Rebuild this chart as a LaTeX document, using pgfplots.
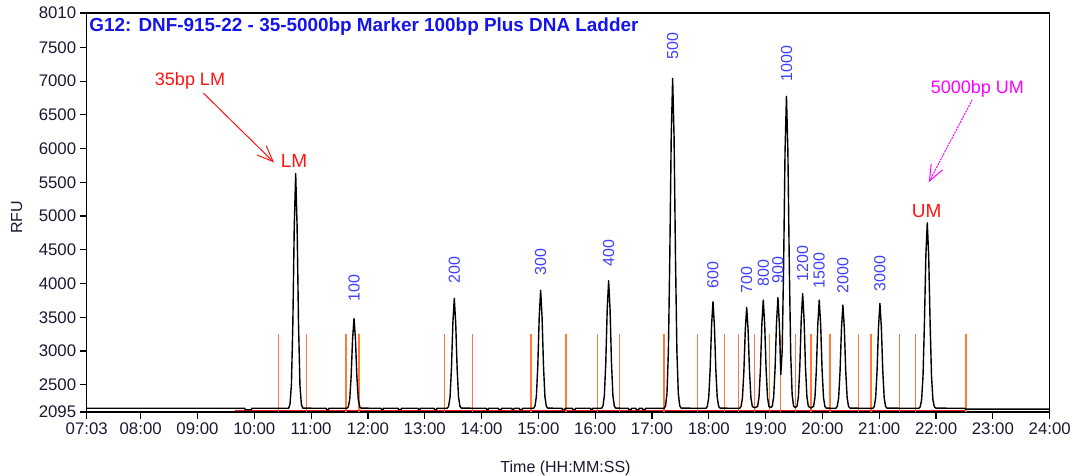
\documentclass[border=0pt]{standalone}
\usepackage{pgfplots}
\pgfplotsset{compat=1.18}
\usepackage{fontspec}
\setmainfont{Liberation Sans}
\usetikzlibrary{arrows.meta}
\definecolor{peakblue}{RGB}{64,64,255}
\definecolor{titleblue}{RGB}{20,20,235}
\definecolor{orangeline}{RGB}{255,120,60}
\definecolor{lmred}{RGB}{255,20,20}
\definecolor{umag}{RGB}{255,0,255}
\definecolor{ticktext}{RGB}{25,25,50}
\begin{document}
\begin{tikzpicture}
\begin{axis}[
  scale only axis, width=963pt, height=399pt,
  xmin=423, xmax=1440, ymin=2095, ymax=8010,
  xtick={423,480,540,600,660,720,780,840,900,960,1020,1080,1140,1200,1260,1320,1380,1440},
  xticklabels={07:03,08:00,09:00,10:00,11:00,12:00,13:00,14:00,15:00,16:00,17:00,18:00,19:00,20:00,21:00,22:00,23:00,24:00},
  ytick={2095,2500,3000,3500,4000,4500,5000,5500,6000,6500,7000,7500,8010},
  yticklabels={2095,2500,3000,3500,4000,4500,5000,5500,6000,6500,7000,7500,8010},
  tick align=outside, tick pos=left,
  major tick length=7pt,
  tick style={black, line width=1.2pt},
  axis line style={black, line width=1.2pt},
  ticklabel style={font=\fontsize{16.8}{20}\selectfont, text=ticktext},
  xlabel={Time (HH:MM:SS)}, ylabel={RFU},
  label style={font=\fontsize{16}{19}\selectfont, text=ticktext},
  xlabel style={at={(axis description cs:0.4972,-0.1403)}, anchor=center},
  ylabel style={at={(axis description cs:-0.0727,0.4875)}, anchor=center},
]
% peak boundary markers (orange)
\addplot[ycomb, orangeline, line width=1.3pt, no marks] coordinates {
(625.3,3250)(655.3,3250)(696.8,3250)(710.6,3250)(800.6,3250)(830.6,3250)
(892.2,3250)(929.2,3250)(962.6,3250)(985.8,3250)(1032.6,3250)(1067.8,3250)
(1096.3,3250)(1111.1,3250)(1128,3250)(1144.4,3250)(1155.9,3250)(1171.3,3250)
(1187.9,3250)(1207.9,3250)(1238.2,3250)(1251.2,3250)(1281.3,3250)(1298,3250)(1351.5,3250)};
% baseline (red)
\addplot[lmred, line width=1.1pt, no marks] coordinates {(580,2112)(1351,2112)};
% electropherogram trace
\addplot[black, line width=1.4pt, no marks, line join=round] coordinates {
(423,2150)
(590,2150)(590.3,2128)(597,2128)(597.3,2150)
(636.2,2150)(637.7,2209)(639.2,2498)(640.7,3403)(642.2,4847)(643.7,5630)(645.2,4847)(646.7,3403)(648.2,2498)(649.7,2209)(651.2,2152)
(676,2150)(676.3,2130)(678.5,2130)(678.8,2150)
(697.8,2150)(699.3,2173)(700.8,2283)(702.3,2629)(703.8,3181)(705.3,3480)(706.8,3181)(708.3,2629)(709.8,2283)(711.3,2173)(712.8,2152)
(734,2150)(734.3,2130)(736,2130)(736.3,2150)
(752,2150)(752.3,2132)(755,2132)(755.3,2150)
(773,2150)(773.3,2130)(775,2130)(775.3,2150)
(790,2150)(790.3,2130)(792.5,2130)(792.8,2150)
(803.7,2150)(805.2,2178)(806.7,2313)(808.2,2737)(809.7,3413)(811.2,3780)(812.7,3413)(814.2,2737)(815.7,2313)(817.2,2178)(818.7,2152)
(845,2150)(845.3,2130)(847,2130)(847.3,2150)
(858,2150)(858.3,2132)(861,2132)(861.3,2150)
(872,2150)(872.3,2130)(874,2130)(874.3,2150)
(880,2150)(880.3,2130)(883,2130)(883.3,2150)
(894.9,2150)(896.4,2180)(897.9,2325)(899.4,2780)(900.9,3506)(902.4,3900)(903.9,3506)(905.4,2780)(906.9,2325)(908.4,2180)(909.9,2152)
(925,2150)(925.3,2130)(928,2130)(928.3,2150)
(936,2150)(936.3,2132)(939,2132)(939.3,2150)
(955,2150)(955.3,2133)(957,2133)(957.3,2150)
(966.7,2150)(968.2,2182)(969.7,2339)(971.2,2830)(972.7,3615)(974.2,4040)(975.7,3615)(977.2,2830)(978.7,2339)(980.2,2182)(981.7,2152)
(995,2150)(995.3,2130)(998,2130)(998.3,2150)
(1003,2150)(1003.3,2128)(1006,2128)(1006.3,2150)
(1010,2150)(1010.3,2130)(1013,2130)(1013.3,2150)
(1032.8,2150)(1034.3,2187)(1035.8,2365)(1037.3,2991)(1038.8,4390)(1040.3,6174)(1041.8,7040)(1043.3,6174)(1044.8,4390)(1046.3,2991)(1047.8,2365)(1049.3,2187)(1050.8,2152)
(1076.9,2150)(1078.4,2177)(1079.9,2308)(1081.4,2719)(1082.9,3375)(1084.4,3730)(1085.9,3375)(1087.4,2719)(1088.9,2308)(1090.4,2177)(1091.9,2152)
(1112.5,2150)(1114,2175)(1115.5,2300)(1117,2688)(1118.5,3309)(1120,3645)(1121.5,3309)(1123,2688)(1124.5,2300)(1126,2175)
(1128.7,2158)
(1131.5,2177)(1133,2311)(1134.5,2728)(1136,3394)(1137.5,3755)(1139,3394)(1140.5,2728)(1142,2311)(1143.5,2177)
(1145.3,2160)
(1147,2180)(1148.5,2320)(1150,2750)(1151.5,3420)(1153,3790)(1154.5,3400)(1156,2650)
(1157.5,3010)(1159,4270)(1160.5,5956)(1162,6775)(1163.5,5956)(1165,4268)(1166.5,2947)(1168,2353)(1169.5,2185)
(1171.3,2160)
(1173.1,2179)(1174.6,2320)(1176.1,2762)(1177.6,3468)(1179.1,3850)(1180.6,3468)(1182.1,2762)(1183.6,2320)(1185.1,2179)
(1187.8,2155)
(1190.6,2177)(1192.1,2311)(1193.6,2728)(1195.1,3394)(1196.6,3755)(1198.1,3394)(1199.6,2728)(1201.1,2311)(1202.6,2177)(1204.1,2152)
(1214.1,2150)(1215.6,2176)(1217.1,2303)(1218.6,2701)(1220.1,3336)(1221.6,3680)(1223.1,3336)(1224.6,2701)(1226.1,2303)(1227.6,2176)(1229.1,2152)
(1253.2,2150)(1254.7,2176)(1256.2,2306)(1257.7,2710)(1259.2,3355)(1260.7,3705)(1262.2,3355)(1263.7,2710)(1265.2,2306)(1266.7,2176)(1268.2,2152)
(1301.7,2150)(1303.2,2171)(1304.7,2271)(1306.2,2623)(1307.7,3410)(1309.2,4413)(1310.7,4900)(1312.2,4413)(1313.7,3410)(1315.2,2623)(1316.7,2271)(1318.2,2171)(1319.7,2152)
(1350,2150)(1351,2138)(1440,2138)};
% title
\node[anchor=west, inner sep=0, text=titleblue, font=\bfseries\fontsize{18.9}{22}\selectfont]
  at (rel axis cs:0.0027,0.967) {G12: DNF-915-22 - 35-5000bp Marker 100bp Plus DNA Ladder};
% peak size labels
\begin{scope}[every node/.style={rotate=90, anchor=west, inner sep=0, text=peakblue, font=\fontsize{16}{16}\selectfont}]
\node at (axis cs:705.3,3731) {100};
\node at (axis cs:811.2,4004) {200};
\node at (axis cs:902.4,4113) {300};
\node at (axis cs:974.2,4251) {400};
\node at (axis cs:1041.8,7318) {500};
\node at (axis cs:1084.4,3930) {600};
\node at (axis cs:1120,3856) {700};
\node at (axis cs:1137.5,3954) {800};
\node at (axis cs:1153,4004) {900};
\node at (axis cs:1162.2,6991) {1000};
\node at (axis cs:1179.1,4028) {1200};
\node at (axis cs:1196.6,3930) {1500};
\node at (axis cs:1221.6,3856) {2000};
\node at (axis cs:1260.7,3880) {3000};
\end{scope}
% marker annotations
\node[text=lmred, font=\fontsize{18}{20}\selectfont, inner sep=0] at (axis cs:532.1,7006) {35bp LM};
\draw[lmred, line width=1pt, -{Straight Barb[length=16pt,width=13pt]}] (axis cs:546.1,6824) -- (axis cs:620.8,5794);
\node[text=lmred, font=\fontsize{19}{21}\selectfont, inner sep=0] at (axis cs:641.9,5819) {LM};
\node[text=umag, font=\fontsize{18}{20}\selectfont, inner sep=0] at (axis cs:1363.7,6887) {5000bp UM};
\draw[umag, line width=1pt, dash pattern=on 2pt off 1pt, -{Straight Barb[length=16pt,width=13pt]}] (axis cs:1358.2,6724) -- (axis cs:1312.4,5503);
\node[text=lmred, font=\fontsize{19}{21}\selectfont, inner sep=0] at (axis cs:1310,5077) {UM};
\end{axis}
\pgfresetboundingbox
\useasboundingbox (-86.7pt,-64pt) rectangle (990.3pt,412pt);
\end{tikzpicture}
\end{document}
